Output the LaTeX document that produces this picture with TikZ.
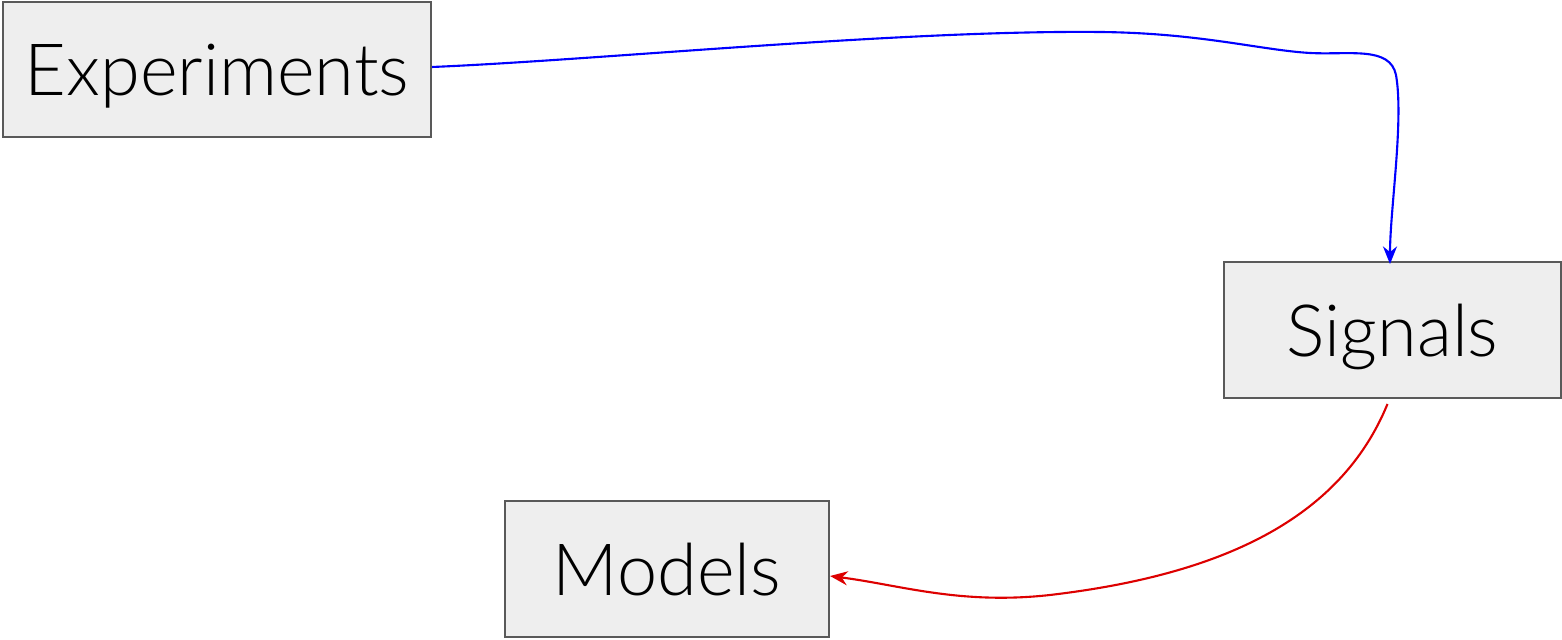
\documentclass[tikz,border=0pt]{standalone}
\usepackage{fontspec}
\setmainfont{Lato}[UprightFont=* Light]
\usetikzlibrary{arrows.meta}
\definecolor{boxfill}{HTML}{EEEEEE}
\definecolor{boxline}{HTML}{595959}
\definecolor{flowblue}{HTML}{0000FF}
\definecolor{flowred}{HTML}{DD0000}
\tikzset{
  block/.style={draw=boxline, line width=0.55pt, fill=boxfill, inner sep=0pt,
    text height=0.52cm, text depth=0pt,
    font=\fontsize{20.5}{24}\selectfont},
  flow/.style={line width=0.6pt, -{Stealth[length=5pt,width=4pt]}}
}
\begin{document}
\begin{tikzpicture}[x=0.01cm, y=-0.01cm]
  \useasboundingbox (0,0) rectangle (1562,640);
  \node[block, minimum width=4.28cm, minimum height=1.35cm] (exp) at (217,69.5) {Experiments};
  \node[block, minimum width=3.37cm, minimum height=1.36cm] (sig) at (1392.5,330) {Signals};
  \node[block, minimum width=3.24cm, minimum height=1.36cm] (mod) at (667,569) {Models};
  \draw[flow, flowblue] (exp.east) ++(0,-2.5) coordinate (a0)
    (a0) .. controls (600,60) and (900,30) .. (1100,32)
    .. controls (1200,33) and (1260,50) .. (1310,53)
    .. controls (1350,55) and (1390,46) .. (1396,75)
    .. controls (1404,120) and (1390,210) .. ([yshift=-0.03cm]sig.north -| 1390,0);
  \draw[flow, flowred] (sig.south) ++(-5,5) coordinate (b0)
    (b0) .. controls (1340,520) and (1220,575) .. (1050,595)
    .. controls (960,605) and (900,585) .. ([yshift=-0.07cm]mod.east);
\end{tikzpicture}
\end{document}
